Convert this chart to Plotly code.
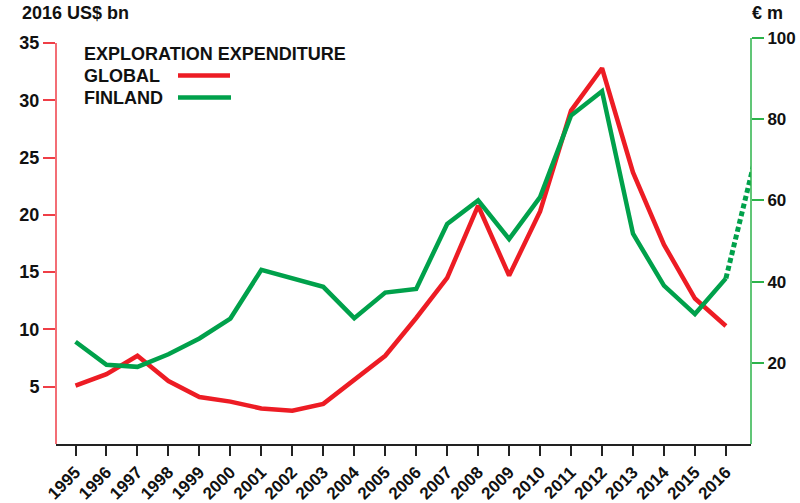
import plotly.graph_objects as go

years = list(range(1995, 2017))
global_usd_bn = [5.1, 6.1, 7.7, 5.5, 4.1, 3.7, 3.1, 2.9, 3.5, 5.6, 7.7, 11.0, 14.5, 20.8,
                 14.7, 20.3, 29.1, 32.8, 23.7, 17.4, 12.7, 10.3]
finland_eur_m = [25.2, 19.5, 19.0, 22.1, 26.0, 30.9, 42.9, 40.9, 38.7, 31.0, 37.3, 38.2,
                 54.2, 60.0, 50.5, 60.8, 80.9, 86.9, 51.8, 39.0, 32.0, 40.8]
projection_years = [2016, 2017]
projection_eur_m = [40.8, 72.0]

left_ticks = [5, 10, 15, 20, 25, 30, 35]
right_ticks = [20, 40, 60, 80, 100]

RED = "#ED1C24"
GREEN = "#00A14B"
AXRED = "#EF3E47"
AXGREEN = "#2DB34A"
FONT = "Liberation Sans, Arial, sans-serif"

fig = go.Figure()
fig.add_trace(go.Scatter(x=years, y=global_usd_bn, mode="lines", name="GLOBAL",
                         line=dict(color=RED, width=4.5), yaxis="y"))
fig.add_trace(go.Scatter(x=years, y=finland_eur_m, mode="lines", name="FINLAND",
                         line=dict(color=GREEN, width=4.5), yaxis="y2"))
fig.add_trace(go.Scatter(x=projection_years, y=projection_eur_m, mode="lines", name="FINLAND est.",
                         line=dict(color=GREEN, width=5, dash="5px,3px"), yaxis="y2"))

fig.update_layout(
    width=800, height=503,
    margin=dict(l=56, r=49, t=38, b=59),
    paper_bgcolor="white", plot_bgcolor="white",
    showlegend=False,
    font=dict(family=FONT, color="#111111"),
    xaxis=dict(
        range=[1994.37, 2016.81], tickvals=years, ticktext=[str(y) for y in years],
        tickangle=-45, ticks="outside", ticklen=10, tickwidth=1.5, tickcolor="#222222",
        showline=True, linecolor="#222222", linewidth=1.5, showgrid=False, zeroline=False,
        automargin=False,
        tickfont=dict(family=FONT, size=17, weight="bold", color="#111111"),
    ),
    yaxis=dict(
        range=[0, 35.44], tickvals=left_ticks, ticks="outside", ticklen=12, tickwidth=1.5,
        tickcolor=AXRED, showline=False, showgrid=False, zeroline=False, automargin=False,
        tickfont=dict(family=FONT, size=18, weight="bold", color="#111111"),
    ),
    yaxis2=dict(
        range=[0, 100], tickvals=right_ticks, overlaying="y", side="right", anchor="x",
        ticks="outside", ticklen=12, tickwidth=1.5, tickcolor=AXGREEN, automargin=False,
        showline=False, showgrid=False, zeroline=False,
        tickfont=dict(family=FONT, size=17, weight="bold", color="#111111"),
    ),
)

# axis lines (left ends at 35, right ends at 100)
fig.add_shape(type="line", xref="paper", yref="y", x0=0, x1=0, y0=0, y1=35,
              line=dict(color=AXRED, width=1.5))
fig.add_shape(type="line", xref="paper", yref="y2", x0=1, x1=1, y0=0, y1=100,
              line=dict(color=AXGREEN, width=1.5))

# axis titles
fig.add_annotation(text="<b>2016 US$ bn</b>", xref="paper", yref="paper", x=-0.052, y=1.062,
                   xanchor="left", yanchor="middle", showarrow=False,
                   font=dict(family=FONT, size=18, color="#111111"))
fig.add_annotation(text="<b>€ m</b>", xref="paper", yref="paper", x=0.998, y=1.062,
                   xanchor="left", yanchor="middle", showarrow=False,
                   font=dict(family=FONT, size=18, color="#111111"))

# legend
leg_x = (82 - 56) / 695
def py(ypix):
    return (444 - ypix) / 406
fig.add_annotation(text="<b>EXPLORATION EXPENDITURE</b>", xref="paper", yref="paper",
                   x=leg_x, y=py(53.5), xanchor="left", yanchor="middle", showarrow=False,
                   font=dict(family=FONT, size=18, color="#111111"))
fig.add_annotation(text="<b>GLOBAL</b>", xref="paper", yref="paper",
                   x=leg_x, y=py(76), xanchor="left", yanchor="middle", showarrow=False,
                   font=dict(family=FONT, size=18, color="#111111"))
fig.add_annotation(text="<b>FINLAND</b>", xref="paper", yref="paper",
                   x=leg_x, y=py(98), xanchor="left", yanchor="middle", showarrow=False,
                   font=dict(family=FONT, size=18, color="#111111"))
fig.add_shape(type="line", xref="paper", yref="paper",
              x0=(178 - 56) / 695, x1=(230 - 56) / 695, y0=py(75.5), y1=py(75.5),
              line=dict(color=RED, width=4.5))
fig.add_shape(type="line", xref="paper", yref="paper",
              x0=(178 - 56) / 695, x1=(231 - 56) / 695, y0=py(97.5), y1=py(97.5),
              line=dict(color=GREEN, width=4.5))

fig.write_html("out.html", config={"displayModeBar": False},
               post_script="document.body.style.margin='0';document.body.style.padding='0';")
